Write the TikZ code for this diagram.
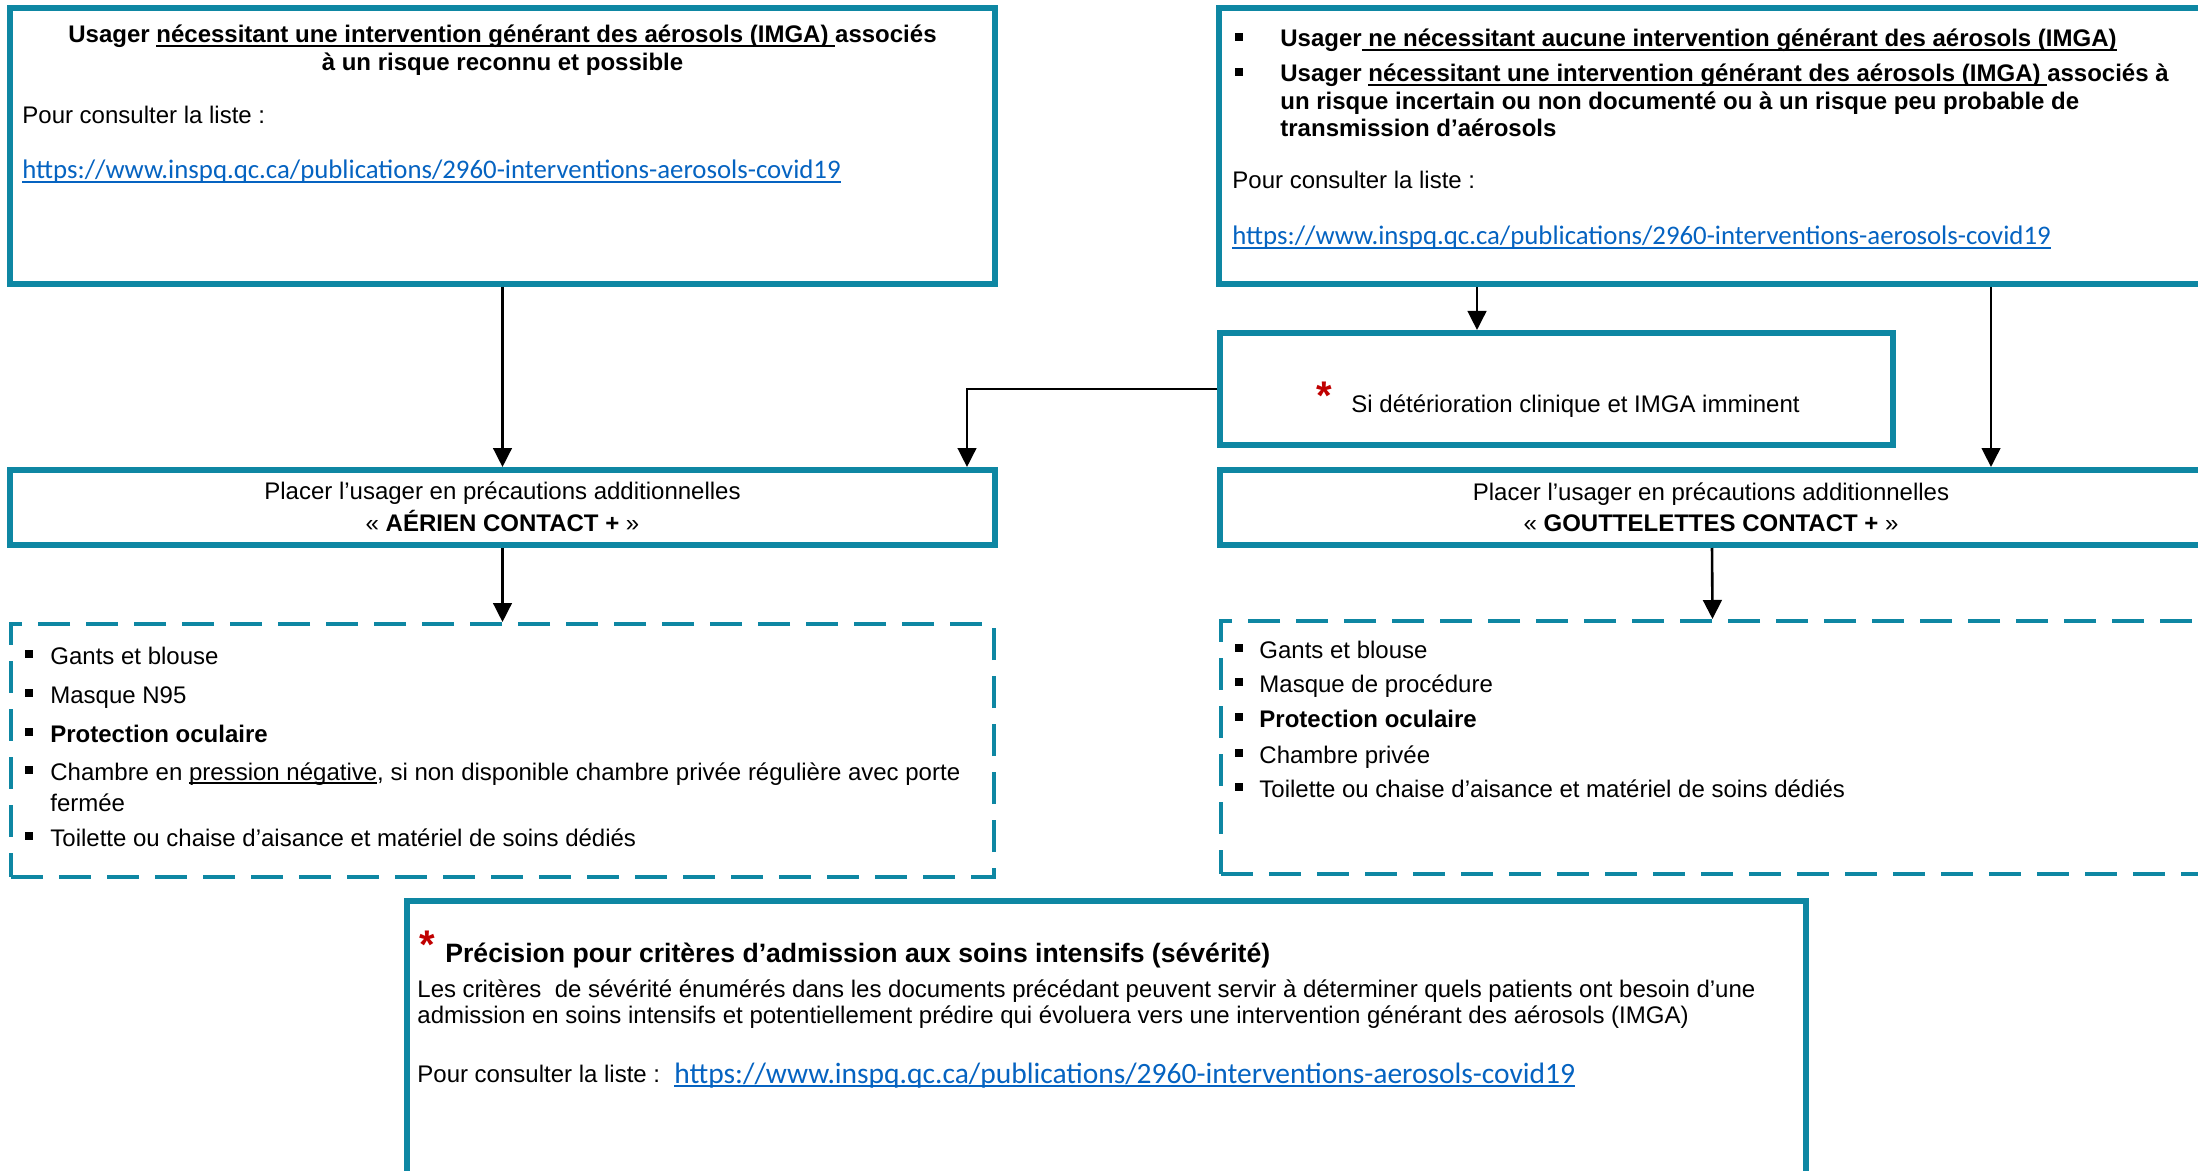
\documentclass[tikz,border=0pt]{standalone}
\usepackage{fontspec}
\setmainfont{Liberation Sans}
\newfontfamily\calibri{Carlito}
\usetikzlibrary{arrows.meta}
\definecolor{tealb}{RGB}{14,135,163}
\definecolor{linkb}{RGB}{5,99,193}
\definecolor{starred}{RGB}{192,0,0}
\newcommand\myul[1]{\leavevmode\setbox0=\hbox{#1}\rlap{\rule[-1.8pt]{\wd0}{0.7pt}}\box0}
\newcommand\lnk[1]{{\calibri\color{linkb}\myul{#1}}}
\begin{document}
\begin{tikzpicture}[x=0.5pt,y=-0.5pt,
  box/.style={draw=tealb,line width=3pt,rectangle,inner sep=0pt},
  dbox/.style={draw=tealb,line width=2pt,dash pattern=on 16pt off 8pt,rectangle,inner sep=0pt},
  arr/.style={line width=1.3pt,-{Triangle[length=9.5pt,width=9.3pt]}},
  txt/.style={anchor=base west,inner sep=0pt,font=\fontsize{12}{13.8}\selectfont},
  ctxt/.style={txt,anchor=base},
  bul/.style={fill=black,inner sep=0pt,minimum size=4pt},
  star/.style={anchor=base,inner sep=0pt,text=starred,font=\fontsize{20}{20}\selectfont\bfseries}]
\useasboundingbox (0,0) rectangle (2198,1171);
\clip (0,0) rectangle (2198,1171);
% boxes
\node[box,minimum width=492.5pt,minimum height=138pt] (b1) at (502.5,146) {};
\node[box,minimum width=492.5pt,minimum height=138pt] (b2) at (1711.5,146) {};
\node[box,minimum width=336.5pt,minimum height=56pt] (si) at (1556.5,389) {};
\node[box,minimum width=492.5pt,minimum height=37.5pt] (aer) at (502.5,507.5) {};
\node[box,minimum width=492pt,minimum height=37.5pt] (gou) at (1712,507.5) {};
\node[dbox,minimum width=491.5pt,minimum height=126.5pt] (dl) at (502.5,750.5) {};
\node[dbox,minimum width=491.5pt,minimum height=126.5pt] (dr) at (1712.5,747.5) {};
\node[box,minimum width=699.5pt,minimum height=144.5pt] (bot) at (1106.5,1045.5) {};
% connectors
\coordinate (ca) at (1477,0);
\coordinate (cb) at (1991,0);
\coordinate (cc) at (967,0);
\draw[arr] (b1.south) -- (aer.north);
\draw[arr] (b2.south -| ca) -- (si.north -| ca);
\draw[arr] (b2.south -| cb) -- (gou.north -| cb);
\draw[arr] (si.west) -| (aer.north -| cc);
\draw[arr] (aer.south) -- (dl.north);
\draw[arr] (gou.south) -- (dr.north);
% box 1
\node[ctxt] (t1) at (502.5,43) {\bfseries Usager \myul{nécessitant une intervention générant des aérosols (IMGA)\ }associés};
\node[ctxt] (t2) at (502.5,71) {\bfseries à un risque reconnu et possible};
\node[txt] (t3) at (22,124) {Pour consulter la liste :};
\node[txt] (t4) at (22,179) {\fontsize{13.4}{15}\selectfont\lnk{https://www.inspq.qc.ca/publications/2960-interventions-aerosols-covid19}};
% box 2
\node[bul] (q1) at (1239,37) {};
\node[txt] (t5) at (1280,47) {\bfseries Usager\myul{\ ne nécessitant aucune intervention générant des aérosols (IMGA)}};
\node[bul] (q2) at (1239,72) {};
\node[txt] (t6) at (1280,82) {\bfseries Usager \myul{nécessitant une intervention générant des aérosols (IMGA)\ }associés à};
\node[txt] (t7) at (1280,110) {\bfseries un risque incertain ou non documenté ou à un risque peu probable de};
\node[txt] (t8) at (1280,137) {\bfseries transmission d’aérosols};
\node[txt] (t9) at (1232,189) {Pour consulter la liste :};
\node[txt] (t10) at (1232,245) {\fontsize{13.4}{15}\selectfont\lnk{https://www.inspq.qc.ca/publications/2960-interventions-aerosols-covid19}};
% si box
\node[star] (s1) at (1324,409) {*};
\node[txt] (t11) at (1351,412) {Si détérioration clinique et IMGA imminent};
% precaution boxes
\node[ctxt] (t12) at (502.5,499) {Placer l’usager en précautions additionnelles};
\node[ctxt] (t13) at (502.5,531) {«~\textbf{AÉRIEN CONTACT +}~»};
\node[ctxt] (t14) at (1711,500) {Placer l’usager en précautions additionnelles};
\node[ctxt] (t15) at (1711,531) {«~\textbf{GOUTTELETTES CONTACT +}~»};
% left list
\node[bul] (l1) at (29,654) {};
\node[txt] (u1) at (50,664) {Gants et blouse};
\node[bul] (l2) at (29,693) {};
\node[txt] (u2) at (50,703) {Masque N95};
\node[bul] (l3) at (29,732) {};
\node[txt] (u3) at (50,742) {\bfseries Protection oculaire};
\node[bul] (l4) at (29,770) {};
\node[txt] (u4) at (50,780) {Chambre en \myul{pression négative}, si non disponible chambre privée régulière avec porte};
\node[txt] (u5) at (50,811) {fermée};
\node[bul] (l5) at (29,836) {};
\node[txt] (u6) at (50,846) {Toilette ou chaise d’aisance et matériel de soins dédiés};
% right list
\node[bul] (r1) at (1239,648) {};
\node[txt] (v1) at (1259,658) {Gants et blouse};
\node[bul] (r2) at (1239,682) {};
\node[txt] (v2) at (1259,692) {Masque de procédure};
\node[bul] (r3) at (1239,717) {};
\node[txt] (v3) at (1259,727) {\bfseries Protection oculaire};
\node[bul] (r4) at (1239,753) {};
\node[txt] (v4) at (1259,763) {Chambre privée};
\node[bul] (r5) at (1239,787) {};
\node[txt] (v5) at (1259,797) {Toilette ou chaise d’aisance et matériel de soins dédiés};
% bottom box
\node[star] (s2) at (427,958) {*};
\node[txt] (w1) at (445,962) {\fontsize{13.3}{15}\selectfont\bfseries Précision pour critères d’admission aux soins intensifs (sévérité)};
\node[txt] (w2) at (417,997) {Les critères\ \ de sévérité énumérés dans les documents précédant peuvent servir à déterminer quels patients ont besoin d’une};
\node[txt] (w3) at (417,1023) {admission en soins intensifs et potentiellement prédire qui évoluera vers une intervention générant des aérosols (IMGA)};
\node[txt] (w4) at (417,1082) {Pour consulter la liste :};
\node[txt] (w5) at (674,1083) {\fontsize{14.75}{16}\selectfont\lnk{https://www.inspq.qc.ca/publications/2960-interventions-aerosols-covid19}};
\end{tikzpicture}
\end{document}
